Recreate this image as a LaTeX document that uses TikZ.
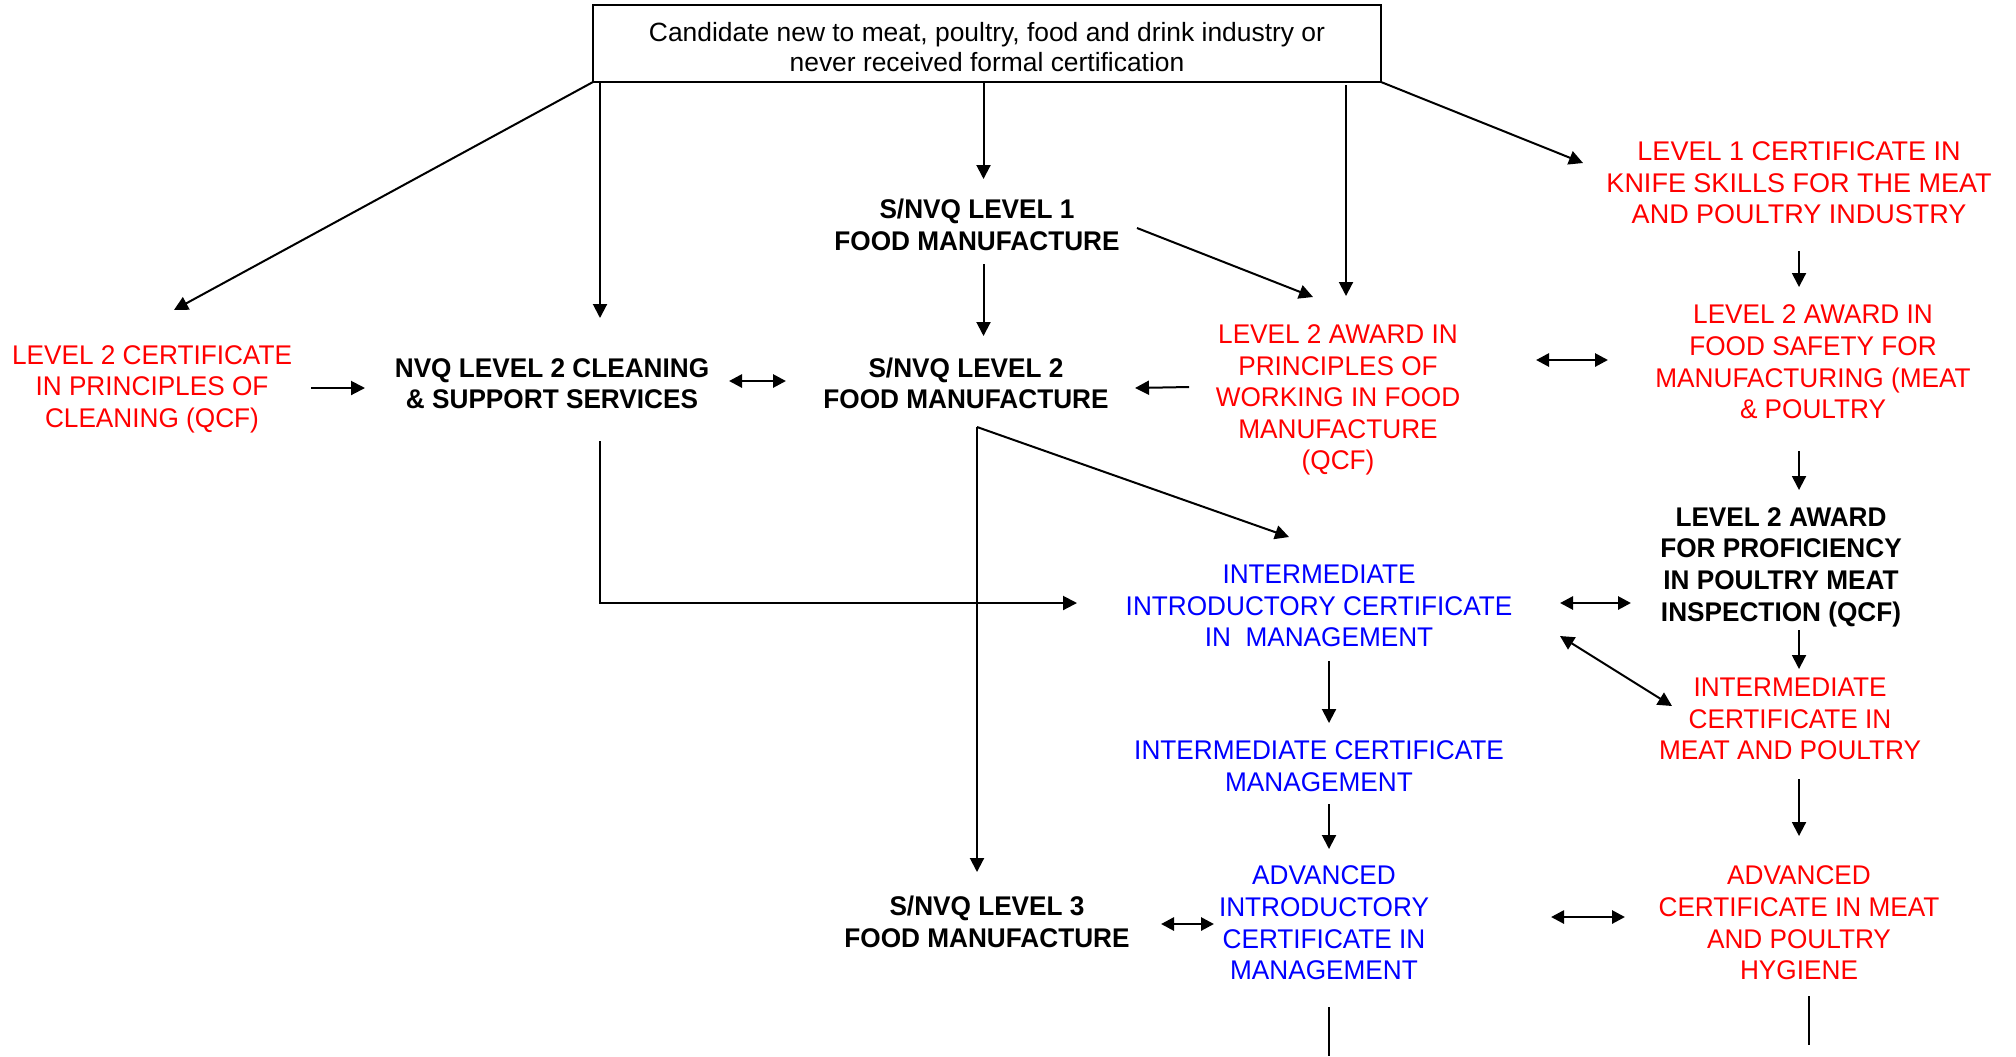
\documentclass[tikz,border=0pt]{standalone}
\usepackage{fontspec}
\setmainfont{Liberation Sans}
\newfontfamily\cond[FakeStretch=0.97]{Liberation Sans}
\usetikzlibrary{arrows.meta}
\definecolor{cred}{RGB}{255,0,0}
\definecolor{cblue}{RGB}{0,0,255}
\tikzset{
  txt/.style={align=center,inner sep=0pt,yshift=-1.5pt,font=\cond\fontsize{13.5}{15.8}\selectfont},
  redtxt/.style={txt,text=cred},
  bluetxt/.style={txt,text=cblue},
  boldtxt/.style={txt,font=\cond\bfseries\fontsize{13.5}{15.8}\selectfont},
  conn/.style={line width=1pt,-{Triangle[length=7pt,width=7pt]}},
  plain/.style={line width=1pt},
  dbl/.style={line width=1.4pt,{Triangle[length=6.5pt,width=6.5pt]}-{Triangle[length=6.5pt,width=6.5pt]}},
  dblthin/.style={line width=1pt,{Triangle[length=7pt,width=7pt]}-{Triangle[length=7pt,width=7pt]}},
}
\begin{document}
\begin{tikzpicture}[x=0.5pt,y=-0.5pt]
\useasboundingbox (0,0) rectangle (2016,1056);
% top box
\node[draw,line width=1pt,minimum width=394pt,minimum height=38.5pt,inner sep=0pt] (top) at (987,43.5) {};
\node[align=center,inner sep=0pt,font=\fontsize{13.2}{15}\selectfont] (toptext) at (987,47.5)
  {Candidate new to meat, poultry, food and drink industry or\\never received formal certification};
% nodes
\node[redtxt] (C) at (152,386) {LEVEL 2 CERTIFICATE\\IN PRINCIPLES OF\\CLEANING (QCF)};
\node[boldtxt] (D) at (552,380.5) {NVQ LEVEL 2 CLEANING\\\& SUPPORT SERVICES};
\node[boldtxt] (E) at (966,380.5) {S/NVQ LEVEL 2\\FOOD MANUFACTURE};
\node[boldtxt] (A) at (977,222) {S/NVQ LEVEL 1\\FOOD MANUFACTURE};
\node[redtxt,font=\fontsize{13.5}{15.8}\selectfont] (B) at (1799,180) {LEVEL 1 CERTIFICATE IN\\KNIFE SKILLS FOR THE MEAT\\AND POULTRY INDUSTRY};
\node[redtxt] (F) at (1338,397) {LEVEL 2 AWARD IN\\PRINCIPLES OF\\WORKING IN FOOD\\MANUFACTURE\\(QCF)};
\node[redtxt] (G) at (1813,359) {LEVEL 2 AWARD IN\\FOOD SAFETY FOR\\MANUFACTURING (MEAT\\\& POULTRY};
\node[boldtxt] (H) at (1781,564) {LEVEL 2 AWARD\\FOR PROFICIENCY\\IN POULTRY MEAT\\INSPECTION (QCF)};
\node[bluetxt] (I) at (1319,603) {INTERMEDIATE\\INTRODUCTORY CERTIFICATE\\IN\ \ MANAGEMENT};
\node[redtxt] (J) at (1790,716) {INTERMEDIATE\\CERTIFICATE IN\\MEAT AND POULTRY};
\node[bluetxt] (K) at (1319,763) {INTERMEDIATE CERTIFICATE\\MANAGEMENT};
\node[boldtxt] (L) at (987,919) {S/NVQ LEVEL 3\\FOOD MANUFACTURE};
\node[bluetxt] (M) at (1324,920) {ADVANCED\\INTRODUCTORY\\CERTIFICATE IN\\MANAGEMENT};
\node[redtxt] (N) at (1799,920) {ADVANCED\\CERTIFICATE IN MEAT\\AND POULTRY\\HYGIENE};
% connector end points
\coordinate (topC1) at (593,82);   \coordinate (toC) at (174,310);
\coordinate (topD1) at (600,82);   \coordinate (toD) at (600,318);
\coordinate (topA1) at (983.5,82); \coordinate (toA) at (983.5,179);
\coordinate (topF1) at (1346,85);  \coordinate (toF) at (1346,296);
\coordinate (topB1) at (1381,82);  \coordinate (toB) at (1583,163);
\coordinate (CD1) at (311,388);    \coordinate (CD2) at (365,388);
\coordinate (DE1) at (729,381);    \coordinate (DE2) at (786,381);
\coordinate (AE1) at (983.5,264);  \coordinate (AE2) at (983.5,336);
\coordinate (AF1) at (1137,228);   \coordinate (AF2) at (1313,297);
\coordinate (FE1) at (1189,387);   \coordinate (FE2) at (1135,388);
\coordinate (FG1) at (1536,360);   \coordinate (FG2) at (1608,360);
\coordinate (BG1) at (1799,251);   \coordinate (BG2) at (1799,287);
\coordinate (GH1) at (1799,451);   \coordinate (GH2) at (1799,490);
\coordinate (Ebr) at (977,427);    \coordinate (EI2) at (1289,537);
\coordinate (EL2) at (977,872);
\coordinate (DI1) at (600,441);    \coordinate (DIc) at (600,603); \coordinate (DI2) at (1077,603);
\coordinate (IH1) at (1560,603);   \coordinate (IH2) at (1631,603);
\coordinate (IJ1) at (1560,636);   \coordinate (IJ2) at (1672,706);
\coordinate (HJ1) at (1799,630);   \coordinate (HJ2) at (1799,669);
\coordinate (IK1) at (1329,661);   \coordinate (IK2) at (1329,723);
\coordinate (JN1) at (1799,779);   \coordinate (JN2) at (1799,836);
\coordinate (KM1) at (1329,804);   \coordinate (KM2) at (1329,849);
\coordinate (LM1) at (1161,924);   \coordinate (LM2) at (1214,924);
\coordinate (MN1) at (1551,917);   \coordinate (MN2) at (1625,917);
\coordinate (Mb1) at (1329,1007);  \coordinate (Mb2) at (1329,1056);
\coordinate (Nb1) at (1809,996);   \coordinate (Nb2) at (1809,1045);
% connectors
\draw[conn] (topC1) -- (toC);
\draw[conn] (topD1) -- (toD);
\draw[conn] (topA1) -- (toA);
\draw[conn] (topF1) -- (toF);
\draw[conn] (topB1) -- (toB);
\draw[conn] (CD1) -- (CD2);
\draw[dbl] (DE1) -- (DE2);
\draw[conn] (AE1) -- (AE2);
\draw[conn] (AF1) -- (AF2);
\draw[conn] (FE1) -- (FE2);
\draw[dbl] (FG1) -- (FG2);
\draw[conn] (BG1) -- (BG2);
\draw[conn] (GH1) -- (GH2);
\draw[conn] (Ebr) -- (EI2);
\draw[conn] (Ebr) -- (EL2);
\draw[conn] (DI1) -- (DIc) -- (DI2);
\draw[dbl] (IH1) -- (IH2);
\draw[dblthin] (IJ1) -- (IJ2);
\draw[conn] (HJ1) -- (HJ2);
\draw[conn] (IK1) -- (IK2);
\draw[conn] (JN1) -- (JN2);
\draw[conn] (KM1) -- (KM2);
\draw[dbl] (LM1) -- (LM2);
\draw[dbl] (MN1) -- (MN2);
\draw[plain] (Mb1) -- (Mb2);
\draw[plain] (Nb1) -- (Nb2);
\end{tikzpicture}
\end{document}
